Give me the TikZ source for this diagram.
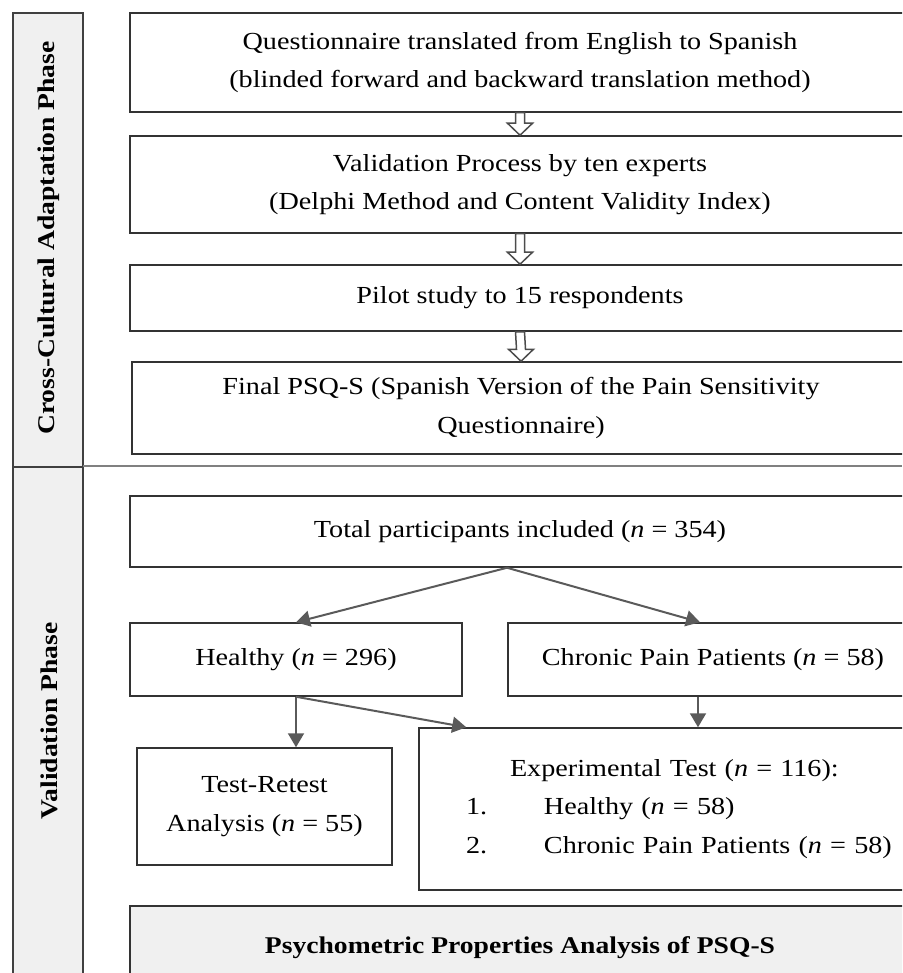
\documentclass[tikz,border=0pt]{standalone}
\usepackage{fontspec}
\setmainfont[FakeStretch=1.15]{Liberation Serif}
\usetikzlibrary{arrows.meta,calc}

\definecolor{phasegray}{HTML}{F0F0F0}
\definecolor{arrowgray}{HTML}{5A5A5A}

\tikzset{
    box/.style={draw=black!80, line width=1.5pt, align=center, inner sep=0pt,
        font=\fontsize{24.5}{38.5}\selectfont},
    phase/.style={draw=black!75, fill=phasegray, line width=1.5pt},
    phaselabel/.style={rotate=90, font=\fontsize{24}{28}\selectfont\bfseries},
    arr/.style={draw=arrowgray, line width=2pt, -{Triangle[length=14pt,width=16pt]}},
    hollow/.style={draw=black!70, fill=white, line width=1.5pt},
}

% hollow arrow between two stacked boxes
\newcommand{\hollowarrow}[2]{%
    \draw[hollow] ($(#1.south)+(-4.5,0)$) -- ($(#1.south)+(4.5,0)$)
        -- ($(#2.north)+(4.5,-12)$) -- ($(#2.north)+(12.5,-12)$)
        -- (#2.north) -- ($(#2.north)+(-12.5,-12)$)
        -- ($(#2.north)+(-4.5,-12)$) -- cycle;}

\begin{document}
\begin{tikzpicture}[x=1pt, y=-1pt]
    \useasboundingbox (0,0) rectangle (902,973);
    \clip (0,0) rectangle (902,973);

    % Phases
    \draw[phase] (13,13) rectangle (83,467);
    \draw[phase] (13,467) rectangle (83,995);
    \node[phaselabel] (cross) at (49,238) {Cross-Cultural Adaptation Phase};
    \node[phaselabel] (valid) at (49,721) {Validation Phase};
    \draw[gray, line width=2pt] (83,466) -- (902,466);

    % Cross-cultural adaptation
    \node[box, minimum width=780, minimum height=99] (transl) at (520,62.5)
        {Questionnaire translated from English to Spanish\\(blinded forward and backward translation method)};
    \node[box, minimum width=780, minimum height=97] (experts) at (520,184.5)
        {Validation Process by ten experts\\(Delphi Method and Content Validity Index)};
    \node[box, minimum width=780, minimum height=66] (pilot) at (520,298)
        {Pilot study to 15 respondents};
    \node[box, minimum width=778, minimum height=92] (final) at (521,408)
        {Final PSQ-S (Spanish Version of the Pain Sensitivity\\Questionnaire)};

    \hollowarrow{transl}{experts}
    \hollowarrow{experts}{pilot}
    \hollowarrow{pilot}{final}

    % Validation
    \node[box, minimum width=780, minimum height=71] (total) at (520,531.5)
        {Total participants included (\textit{n} = 354)};
    \node[box, minimum width=332, minimum height=73] (healthy) at (296,659.5)
        {Healthy (\textit{n} = 296)};
    \node[box, minimum width=410, minimum height=73] (chronic) at (713,659.5)
        {Chronic Pain Patients (\textit{n} = 58)};
    \node[box, minimum width=255, minimum height=117] (retest) at (264.5,806.5)
        {Test-Retest\\Analysis (\textit{n} = 55)};
    \node[box, minimum width=534, minimum height=162, text width=440, align=left] (exper) at (686,809)
        {\hspace*{44pt}Experimental Test (\textit{n} = 116):\\
         \makebox[78pt][l]{1.}Healthy (\textit{n} = 58)\\
         \makebox[78pt][l]{2.}Chronic Pain Patients (\textit{n} = 58)};
    \node[box, fill=phasegray, minimum width=780, minimum height=84,
        font=\fontsize{24}{28}\selectfont\bfseries] (psych) at (520,948)
        {Psychometric Properties Analysis of PSQ-S};

    \coordinate (split) at ($(total.south)+(-13,0)$);
    \draw[arr] (split) -- (healthy.north);
    \draw[arr] (split) -- ($(chronic.north)+(-13,0)$);
    \draw[arr] (healthy.south) -- (healthy.south |- retest.north);
    \draw[arr] (healthy.south) -- ([xshift=48]exper.north west);
    \draw[arr] ([xshift=-15]chronic.south) -- ([xshift=-15]chronic.south |- exper.north);
\end{tikzpicture}
\end{document}
